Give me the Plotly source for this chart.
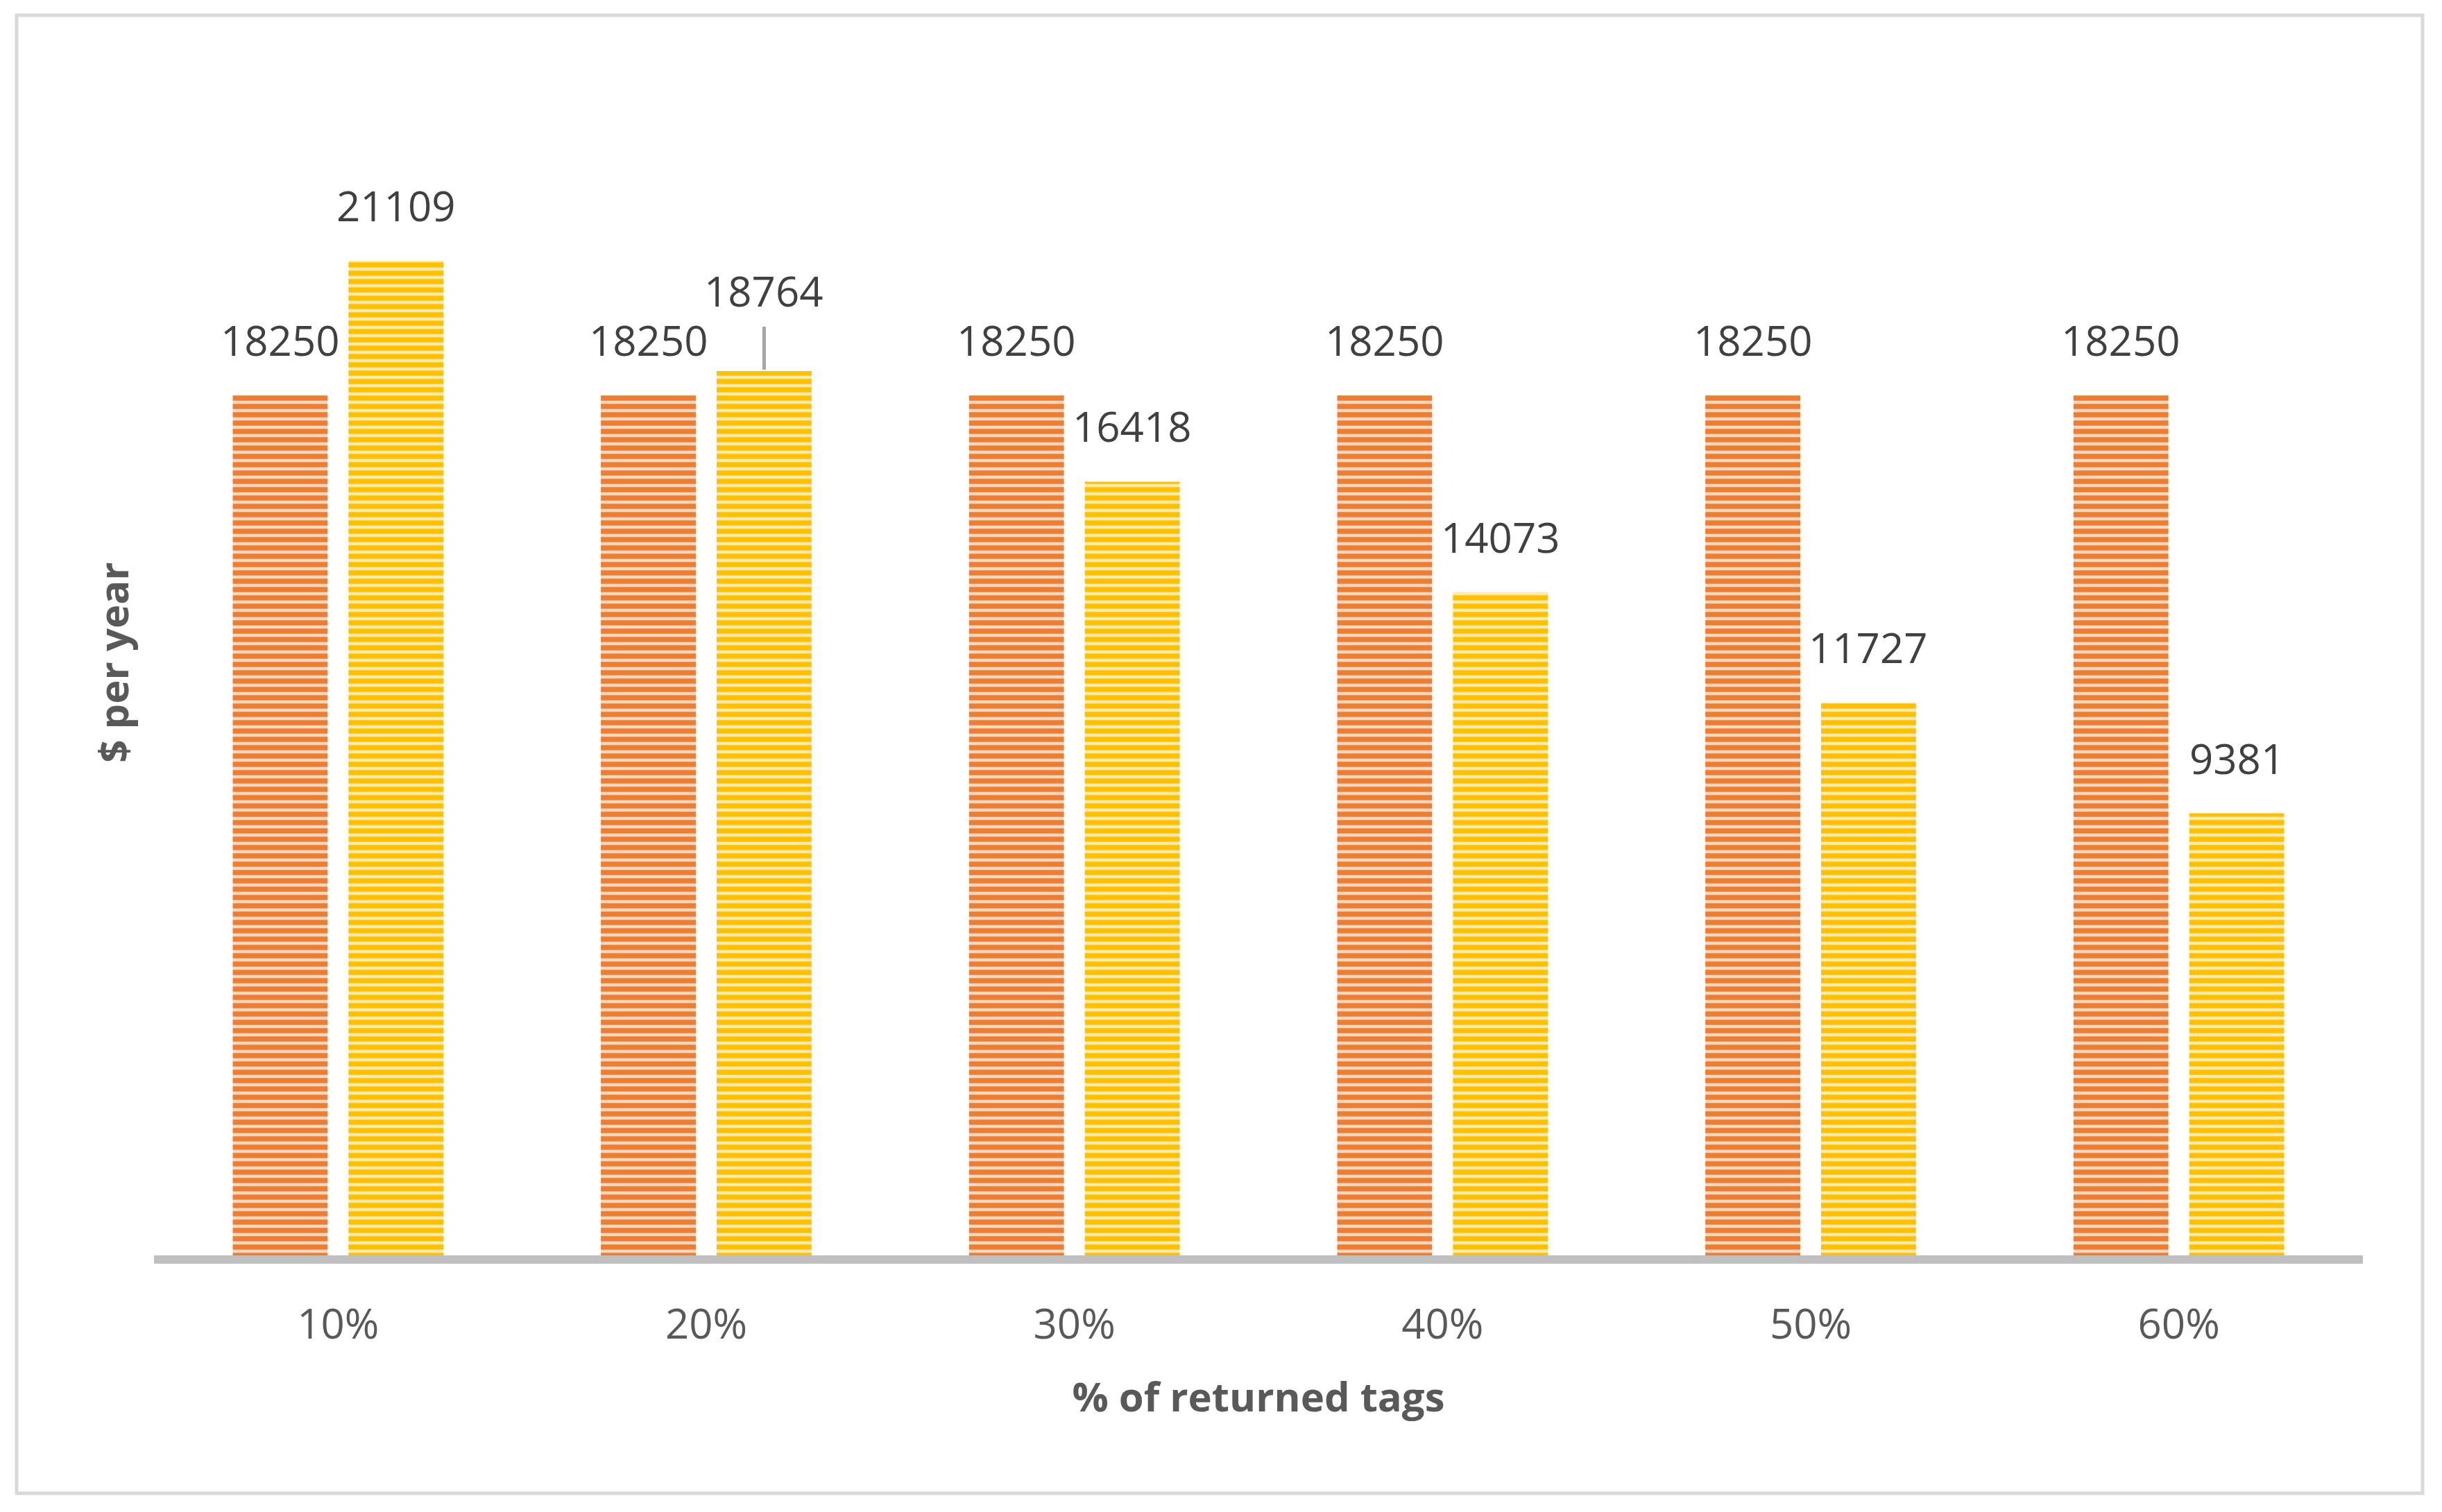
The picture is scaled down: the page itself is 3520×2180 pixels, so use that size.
import plotly.graph_objects as go

categories = ["10%", "20%", "30%", "40%", "50%", "60%"]
series_a = [18250, 18250, 18250, 18250, 18250, 18250]
series_b = [21109, 18764, 16418, 14073, 11727, 9381]
x_title = "% of returned tags"
y_title = "$ per year"

OFF = 8  # page body margin
W, H = 3520, 2180
L, R, T, B = 222 - OFF, 114 + OFF, 100 - OFF, 370 + OFF
PW, PH = W - L - R, H - T - B
YMAX = 25166

ORANGE, ORANGE_L = "#ED7D31", "#F9D8C1"
YELLOW, YELLOW_L = "#FFC000", "#FFECB3"
FONT = "Open Sans"

fig = go.Figure()
for vals, dark, light in [(series_a, ORANGE, ORANGE_L), (series_b, YELLOW, YELLOW_L)]:
    fig.add_trace(go.Bar(
        x=categories, y=vals,
        marker=dict(color=dark, line=dict(width=0),
                    pattern=dict(shape="-", fgcolor=dark, bgcolor=light,
                                 size=12, solidity=0.62, fillmode="replace")),
        showlegend=False, hoverinfo="x+y",
    ))

slot_px = PW / len(categories) * (1 - 0.371) / 2
for vals, sign in [(series_a, -1), (series_b, 1)]:
    for c, v in zip(categories, vals):
        ann = dict(x=c, y=v, xref="x", yref="y", text=str(v), xshift=sign * slot_px / 2,
                   font=dict(family=FONT, size=60, color="#404040"))
        if sign == 1 and c == "20%":
            ann.update(showarrow=True, arrowhead=0, arrowwidth=5, arrowcolor="#A6A6A6",
                       ax=0, ay=-64, standoff=2, yanchor="bottom", borderpad=10)
        else:
            ann.update(showarrow=False, yanchor="middle", yshift=80)
        fig.add_annotation(**ann)

fig.add_shape(type="rect", xref="paper", yref="paper",
              x0=(24 - OFF - L) / PW, x1=(3492 - OFF - L) / PW,
              y0=(T + PH - (2153 - OFF)) / PH, y1=(T + PH - (22 - OFF)) / PH,
              line=dict(color="#D9D9D9", width=5), fillcolor="rgba(0,0,0,0)", layer="below")

fig.update_layout(
    width=W, height=H, margin=dict(l=L, r=R, t=T, b=B, autoexpand=False),
    paper_bgcolor="white", plot_bgcolor="white",
    barmode="group", bargap=0.371, bargroupgap=0.18,
    font=dict(family=FONT, color="#595959"),
    xaxis=dict(showline=True, linecolor="#BFBFBF", linewidth=12, ticks="",
               tickfont=dict(family=FONT, size=60, color="#595959"),
               title=dict(text="<b>" + x_title + "</b>", font=dict(family=FONT, size=58, color="#595959"), standoff=52),
               showgrid=False, ticklabelstandoff=36),
    yaxis=dict(range=[0, YMAX], showticklabels=False, showgrid=False, zeroline=False, showline=False,
               title=dict(text="<b>" + y_title + "</b>", font=dict(family=FONT, size=58, color="#595959"), standoff=16)),
)

fig.write_html("out.html")
